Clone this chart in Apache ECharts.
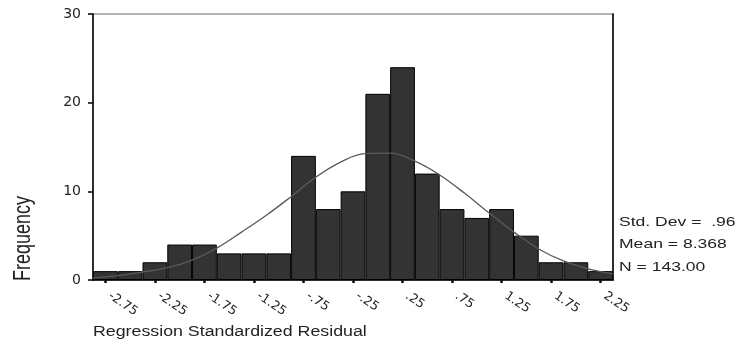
<!DOCTYPE html>
<html>
<head>
<meta charset="utf-8">
<script src="https://cdn.jsdelivr.net/npm/echarts@6/dist/echarts.min.js"></script>
<style>
html,body{margin:0;padding:0;background:#fff;}
#chart{width:742px;height:363px;}
</style>
</head>
<body>
<div id="chart"></div>
<script>
const categories = ['-2.75','-2.50','-2.25','-2.00','-1.75','-1.50','-1.25','-1.00','-.75','-.50','-.25','0.00','.25','.50','.75','1.00','1.25','1.50','1.75','2.00','2.25'];
const frequencies = [1,1,2,4,4,3,3,3,14,8,10,21,24,12,8,7,8,5,2,2,1];
const curveX = [-2.875,-2.625,-2.375,-2.125,-1.875,-1.625,-1.375,-1.125,-0.875,-0.625,-0.375,-0.125,0.125,0.375,0.625,0.875,1.125,1.375,1.625,1.875,2.125,2.375];
const curveY = [0.25,0.5,0.9,1.4,2.25,3.6,5.4,7.3,9.4,11.6,13.3,14.25,14.3,13.4,11.85,9.8,7.55,5.4,3.5,2.15,1.25,0.68];
const yTicks = [0,10,20,30];
const statsLines = ['Std. Dev =  .96','Mean = 8.368','N = 143.00'];
const xTitle = 'Regression Standardized Residual';
const yTitle = 'Frequency';

const chart = echarts.init(document.getElementById('chart'), null, {renderer:'canvas'});
const txtFont = '"Liberation Sans", Arial, sans-serif';
chart.setOption({
  animation:false,
  backgroundColor:'#fff',
  grid:{left:93, right:129, top:14, bottom:83, show:true, borderColor:'#9a9a9a', borderWidth:1.5},
  xAxis:[{
    type:'category', data:categories, boundaryGap:true,
    axisLine:{show:true, onZero:false, lineStyle:{color:'#000', width:1.5}},
    axisTick:{show:true, alignWithLabel:true, interval:1, length:3, lineStyle:{color:'#111', width:2.5}},
    axisLabel:{interval:1, rotate:-34, margin:12, padding:[0,0,0,5], fontFamily:'"DejaVu Sans", sans-serif', fontSize:12.5, color:'#222'},
    splitLine:{show:false}
  },{
    type:'value', min:curveX[0], max:curveX[curveX.length-1], show:false,
    axisLine:{onZero:false}
  }],
  yAxis:[{
    type:'value', min:yTicks[0], max:yTicks[yTicks.length-1], interval:10,
    axisLine:{show:true, onZero:false, lineStyle:{color:'#000', width:1.5}},
    axisTick:{show:true, length:5, lineStyle:{color:'#000', width:1.5}},
    axisLabel:{margin:12, fontFamily:'"DejaVu Sans", sans-serif', fontSize:14, color:'#222'},
    splitLine:{show:false}
  },{
    type:'value', min:0, max:30, position:'right',
    axisLine:{show:true, onZero:false, lineStyle:{color:'#000', width:1.5}},
    axisTick:{show:false}, axisLabel:{show:false}, splitLine:{show:false}
  }],
  series:[{
    type:'bar', data:frequencies, xAxisIndex:0, yAxisIndex:0,
    barCategoryGap:'0%',
    itemStyle:{color:'#333333', borderColor:'#000', borderWidth:1}
  },{
    type:'line', xAxisIndex:1, yAxisIndex:0,
    data:curveX.map((x,i)=>[x,curveY[i]]),
    smooth:0.4, showSymbol:false, symbol:'none',
    lineStyle:{color:'#5a5a5a', width:1.3}, z:5
  }],
  graphic:[
    ...statsLines.map((t,i)=>({type:'text', left:619, top:216+i*22.3, scaleX:1.35,
      style:{text:t, font:'13px '+txtFont, fill:'#222'}})),
    {type:'text', left:93, top:325, scaleX:1.27, style:{text:xTitle, font:'14px '+txtFont, fill:'#222'}},
    {type:'text', x:12, y:281, rotation:Math.PI/2, scaleY:1.3, style:{text:yTitle, font:'18px '+txtFont, fill:'#222', align:'left', verticalAlign:'top'}}
  ]
});
</script>
</body>
</html>
